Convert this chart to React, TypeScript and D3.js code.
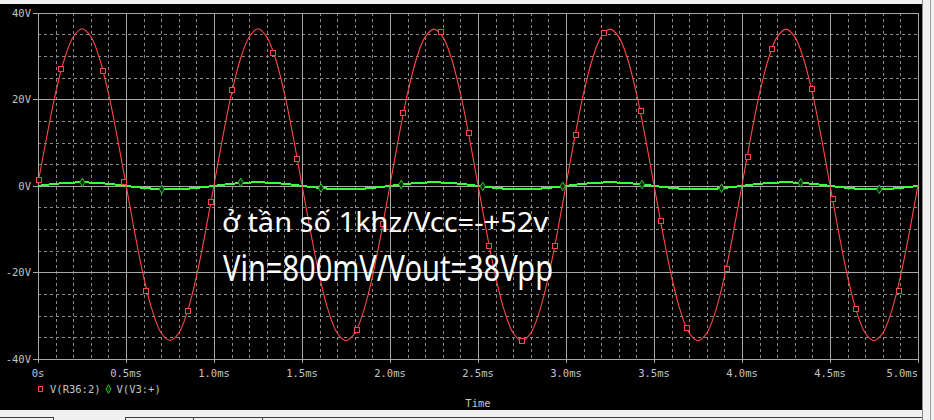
import React, { ReactElement, useEffect, useRef } from "react";
import * as d3 from "d3";

// transient sim: V(R36:2) output and V(V3:+) input, sampled every 0.05 ms
const sampleStep = 0.05; // ms
const outValues = [
  0.6, 11.4, 21.5, 29.3, 34.4, 36.3, 34.5, 29.4, 21.4, 11.3,
  0.3, -10.9, -21.0, -28.9, -34.0, -35.7, -34.0, -28.9, -21.0, -10.9,
  0.2, 11.3, 21.4, 29.3, 34.4, 36.3, 34.4, 29.3, 21.4, 11.3,
  0.2, -10.9, -21.0, -28.9, -34.0, -35.8, -34.0, -28.9, -21.0, -10.9,
  0.2, 11.3, 21.4, 29.3, 34.4, 36.2, 34.4, 29.3, 21.4, 11.3,
  0.2, -10.9, -21.0, -28.9, -34.0, -35.8, -34.0, -28.9, -21.0, -10.9,
  0.2, 11.3, 21.4, 29.3, 34.4, 36.2, 34.4, 29.3, 21.4, 11.3,
  0.2, -10.9, -21.0, -28.9, -34.0, -35.8, -34.0, -28.9, -21.0, -10.9,
  0.2, 11.3, 21.4, 29.3, 34.4, 36.2, 34.4, 29.3, 21.4, 11.3,
  0.2, -10.9, -21.0, -28.9, -34.0, -35.8, -34.0, -28.9, -21.0, -10.9,
  0.2,
];
const inValues = [
  0.0, 0.25, 0.47, 0.65, 0.76, 0.8, 0.76, 0.65, 0.47, 0.25,
  0.0, -0.25, -0.47, -0.65, -0.76, -0.8, -0.76, -0.65, -0.47, -0.25,
  0.0, 0.25, 0.47, 0.65, 0.76, 0.8, 0.76, 0.65, 0.47, 0.25,
  0.0, -0.25, -0.47, -0.65, -0.76, -0.8, -0.76, -0.65, -0.47, -0.25,
  0.0, 0.25, 0.47, 0.65, 0.76, 0.8, 0.76, 0.65, 0.47, 0.25,
  0.0, -0.25, -0.47, -0.65, -0.76, -0.8, -0.76, -0.65, -0.47, -0.25,
  0.0, 0.25, 0.47, 0.65, 0.76, 0.8, 0.76, 0.65, 0.47, 0.25,
  0.0, -0.25, -0.47, -0.65, -0.76, -0.8, -0.76, -0.65, -0.47, -0.25,
  0.0, 0.25, 0.47, 0.65, 0.76, 0.8, 0.76, 0.65, 0.47, 0.25,
  0.0, -0.25, -0.47, -0.65, -0.76, -0.8, -0.76, -0.65, -0.47, -0.25,
  0.0,
];

// marker positions [ms, V] as placed by the probe
const outMarkers = [
  [0.006, 1.4], [0.129, 27.1], [0.369, 26.5], [0.49, 0.9], [0.612, -24.4],
  [0.852, -28.8], [0.983, -3.7], [1.102, 22.2], [1.337, 30.7], [1.47, 6.3],
  [1.811, -33.2], [1.958, -8.9], [2.076, 16.9], [2.288, 35.6], [2.447, 12.1],
  [2.564, -13.8], [2.748, -35.8], [2.939, -13.9], [3.057, 11.8], [3.216, 35.4],
  [3.424, 17.4], [3.541, -8.2], [3.686, -32.9], [3.913, -19.3], [4.032, 6.7],
  [4.172, 31.6], [4.399, 22.3], [4.515, -3.0], [4.646, -28.4], [4.892, -24.2],
];
const inMarkers = [
  [0.252, 0.8], [0.703, -0.77], [1.152, 0.79], [1.608, -0.5], [2.064, 0.31],
  [2.527, -0.13], [2.981, -0.1], [3.432, 0.33], [3.884, -0.54], [4.333, 0.69],
  [4.78, -0.79],
];

const xTicks = [0, 0.5, 1.0, 1.5, 2.0, 2.5, 3.0, 3.5, 4.0, 4.5, 5.0];
const xTickLabels = ["0s", "0.5ms", "1.0ms", "1.5ms", "2.0ms", "2.5ms", "3.0ms", "3.5ms", "4.0ms", "4.5ms", "5.0ms"];
const yTicks = [40, 20, 0, -20, -40];
const yTickLabels = ["40V", "20V", "0V", "-20V", "-40V"];
const legendNames = ["V(R36:2)", "V(V3:+)"];
const noteLines = ["ở tần số 1khz/Vcc=-+52v", "Vin=800mV/Vout=38Vpp"];

function Scope(): ReactElement {
  const ref = useRef<SVGSVGElement>(null);

  useEffect(() => {
    const svg = d3.select(ref.current);
    svg.selectAll("*").remove();

    const left = 38, right = 918, top = 12.7, bottom = 359;
    const x = d3.scaleLinear().domain([0, 5]).range([left, right]);
    const y = d3.scaleLinear().domain([-40, 40]).range([bottom, top]);
    const mono = "'DejaVu Sans Mono', monospace";
    const labelCol = "#c4c4c4";

    // window chrome
    svg.append("rect").attr("width", 934).attr("height", 420).attr("fill", "#f0f0f0");
    svg.append("rect").attr("x", 0).attr("y", 4).attr("width", 922).attr("height", 406).attr("fill", "#000");
    svg.append("line").attr("x1", 922.5).attr("x2", 922.5).attr("y1", 0).attr("y2", 420).attr("stroke", "#8c8c8c");
    svg.append("line").attr("x1", 930.5).attr("x2", 930.5).attr("y1", 0).attr("y2", 420).attr("stroke", "#a0a0a0");
    svg.append("line").attr("x1", 0).attr("x2", 53).attr("y1", 417.5).attr("y2", 417.5).attr("stroke", "#404040");
    svg.append("line").attr("x1", 125).attr("x2", 922).attr("y1", 417.5).attr("y2", 417.5).attr("stroke", "#404040");
    [53, 125, 193, 262].forEach((sx) =>
      svg.append("line").attr("x1", sx + 0.5).attr("x2", sx + 0.5).attr("y1", 417).attr("y2", 420).attr("stroke", "#404040")
    );

    const grid = svg.append("g").attr("shape-rendering", "crispEdges");
    // minor dashed grid
    const xMinor = d3.range(1, 50).map((i) => i / 10).filter((t) => Math.abs(t * 2 - Math.round(t * 2)) > 1e-6);
    const yMinor = d3.range(-35, 40, 5).filter((v) => v % 20 !== 0);
    grid.selectAll(".vminor").data(xMinor).enter().append("line")
      .attr("x1", (d) => Math.round(x(d)) + 0.5).attr("x2", (d) => Math.round(x(d)) + 0.5)
      .attr("y1", top).attr("y2", bottom)
      .attr("stroke", "#8a8a8a").attr("stroke-dasharray", "3,3");
    grid.selectAll(".hminor").data(yMinor).enter().append("line")
      .attr("y1", (d) => Math.round(y(d)) + 0.5).attr("y2", (d) => Math.round(y(d)) + 0.5)
      .attr("x1", left).attr("x2", right)
      .attr("stroke", "#8a8a8a").attr("stroke-dasharray", "3,3");
    // major solid grid + frame
    grid.selectAll(".vmajor").data(xTicks).enter().append("line")
      .attr("x1", (d) => Math.round(x(d)) + 0.5).attr("x2", (d) => Math.round(x(d)) + 0.5)
      .attr("y1", top).attr("y2", bottom + 4)
      .attr("stroke", "#a8a8a8");
    grid.selectAll(".hmajor").data(yTicks).enter().append("line")
      .attr("y1", (d) => Math.round(y(d)) + 0.5).attr("y2", (d) => Math.round(y(d)) + 0.5)
      .attr("x1", left - 5).attr("x2", right)
      .attr("stroke", "#a8a8a8");

    // tick labels
    svg.selectAll(".ylab").data(yTicks).enter().append("text")
      .attr("x", 31).attr("y", (d) => y(d) + 4)
      .attr("text-anchor", "end").attr("font-family", mono).attr("font-size", 10.5)
      .attr("fill", labelCol).text((d, i) => yTickLabels[i]);
    svg.selectAll(".xlab").data(xTicks).enter().append("text")
      .attr("x", (d) => x(d)).attr("y", 377)
      .attr("text-anchor", (d, i) => (i === xTicks.length - 1 ? "end" : "middle"))
      .attr("font-family", mono).attr("font-size", 10.5)
      .attr("fill", labelCol).text((d, i) => xTickLabels[i]);
    svg.append("text").attr("x", (left + right) / 2).attr("y", 407)
      .attr("text-anchor", "middle").attr("font-family", mono).attr("font-size", 10.5)
      .attr("fill", labelCol).text("Time");

    // traces
    const outLine = d3.line<number>()
      .x((d, i) => x(i * sampleStep)).y((d) => y(d))
      .curve(d3.curveCatmullRom);
    const inLine = d3.line<number>()
      .x((d, i) => x(i * sampleStep)).y((d) => y(d))
      .curve(d3.curveCatmullRom);

    svg.append("path").attr("d", inLine(inValues) || "")
      .attr("fill", "none").attr("stroke", "#3cff3c").attr("stroke-width", 2)
      .attr("shape-rendering", "crispEdges");
    svg.append("path").attr("d", outLine(outValues) || "")
      .attr("fill", "none").attr("stroke", "#ff4646").attr("stroke-width", 1.1);

    const diamond = d3.symbol().type(d3.symbolDiamond).size(22);
    svg.selectAll(".inmk").data(inMarkers).enter().append("path")
      .attr("d", diamond() || "")
      .attr("transform", (d) => `translate(${x(d[0])},${y(d[1])})`)
      .attr("fill", "#062806").attr("stroke", "#2fbf2f").attr("stroke-width", 1);
    svg.selectAll(".outmk").data(outMarkers).enter().append("rect")
      .attr("x", (d) => Math.round(x(d[0])) - 2.5).attr("y", (d) => Math.round(y(d[1])) - 2.5)
      .attr("width", 5).attr("height", 5)
      .attr("fill", "#000").attr("stroke", "#ff4646").attr("stroke-width", 1);

    // legend
    svg.append("rect").attr("x", 38.5).attr("y", 386.5).attr("width", 4).attr("height", 5)
      .attr("fill", "none").attr("stroke", "#ff4646");
    svg.append("text").attr("x", 50).attr("y", 393).attr("font-family", mono).attr("font-size", 10.5)
      .attr("fill", labelCol).text(legendNames[0]);
    svg.append("path").attr("d", diamond() || "").attr("transform", "translate(108.5,389)")
      .attr("fill", "#062806").attr("stroke", "#2fbf2f");
    svg.append("text").attr("x", 116.5).attr("y", 393).attr("font-family", mono).attr("font-size", 10.5)
      .attr("fill", labelCol).text(legendNames[1]);

    // annotation written over the screenshot
    const sans = "'Noto Sans', 'Open Sans', sans-serif";
    svg.append("text").attr("x", 222).attr("y", 232).attr("font-family", sans).attr("font-size", 27)
      .attr("fill", "#fff").attr("textLength", 326).attr("lengthAdjust", "spacingAndGlyphs")
      .text(noteLines[0]);
    svg.append("text").attr("x", 223).attr("y", 281).attr("font-family", sans).attr("font-size", 37)
      .attr("fill", "#fff").attr("textLength", 330).attr("lengthAdjust", "spacingAndGlyphs")
      .text(noteLines[1]);
  });

  return (
    <svg ref={ref} width={934} height={420} style={{ position: "absolute", left: 0, top: 0 }}></svg>
  );
}

export default function App(): ReactElement {
  return (
    <div>
      <Scope />
    </div>
  );
}
